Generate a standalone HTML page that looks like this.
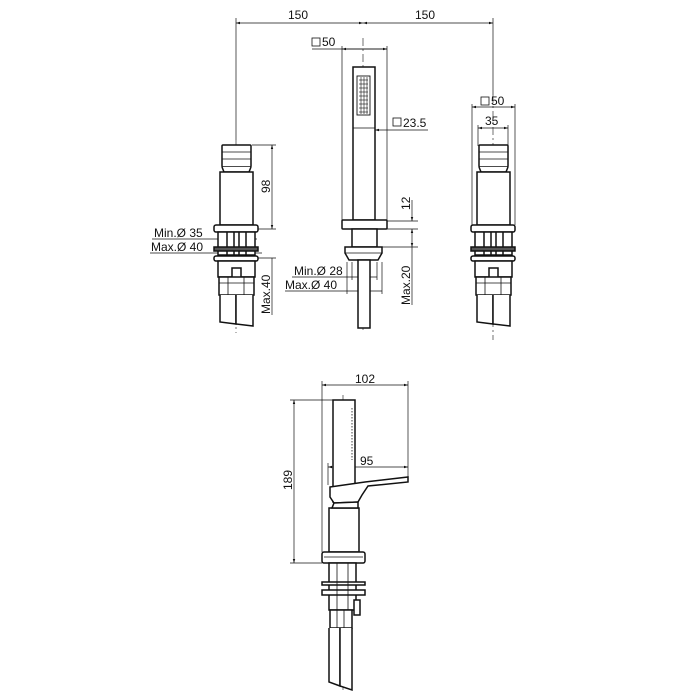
<!DOCTYPE html>
<html><head><meta charset="utf-8"><style>
html,body{margin:0;padding:0;background:#fff}
svg{display:block}
text{font-family:"Liberation Sans",Arial,sans-serif;font-size:12px;fill:#111}
</style></head><body>
<svg width="700" height="700" viewBox="0 0 700 700" xmlns="http://www.w3.org/2000/svg">
<defs>
<marker id="a" viewBox="0 0 10 10" refX="10" refY="5" markerWidth="6" markerHeight="6" orient="auto-start-reverse"><path d="M0,2 L10,5 L0,8 z" fill="#111"/></marker>
<g id="side" fill="#fff" stroke="#111" stroke-width="1.5">
  <rect x="-14" y="145" width="29" height="22" rx="1"/>
  <line x1="-14" y1="152" x2="15" y2="152" stroke-width="0.8"/>
  <line x1="-14" y1="159" x2="15" y2="159" stroke-width="0.8"/>
  <path d="M-14,167 L-12,172 L13,172 L15,167"/>
  <rect x="-16" y="172" width="33" height="53"/>
  <rect x="-22" y="225" width="44" height="7" rx="2"/>
  <rect x="-18" y="232" width="37" height="23"/>
  <line x1="-9" y1="232" x2="-9" y2="255"/><line x1="10" y1="232" x2="10" y2="255"/>
  <line x1="-2" y1="232" x2="-2" y2="270"/><line x1="3" y1="232" x2="3" y2="270"/>
  <rect x="-22" y="247" width="44" height="4" fill="#555"/>
  <rect x="-22" y="256" width="44" height="5" rx="2"/>
  <rect x="-18" y="261" width="37" height="16"/>
  <rect x="-4" y="268" width="9" height="12"/>
  <rect x="-17" y="277" width="35" height="18"/>
  <line x1="-17" y1="283" x2="18" y2="283" stroke-width="0.8"/>
  <line x1="-8" y1="277" x2="-8" y2="295" stroke-width="0.8"/><line x1="8" y1="277" x2="8" y2="295" stroke-width="0.8"/>
  <path d="M-16,295 L-16,322 L0,324 L0,295"/>
  <path d="M0,295 L0,324 L17,326 L17,295"/>
</g>
</defs>
<g stroke="#111" stroke-width="0.7" fill="none">
  <line x1="236" y1="23" x2="363" y2="23" marker-start="url(#a)" marker-end="url(#a)"/>
  <line x1="363" y1="23" x2="493" y2="23" marker-start="url(#a)" marker-end="url(#a)"/>
  <line x1="236" y1="18" x2="236" y2="140"/>
  <line x1="493" y1="18" x2="493" y2="95"/>
  <line x1="312" y1="49" x2="387" y2="49"/>
  <line x1="342" y1="49" x2="387" y2="49" marker-start="url(#a)" marker-end="url(#a)"/>
  <line x1="342" y1="46" x2="342" y2="220"/><line x1="387" y1="46" x2="387" y2="220"/>
  <line x1="375" y1="130" x2="428" y2="130" marker-start="url(#a)"/>
  <line x1="387" y1="221" x2="418" y2="221"/><line x1="387" y1="229" x2="418" y2="229"/><line x1="377" y1="247" x2="418" y2="247"/>
  <line x1="412" y1="200" x2="412" y2="221" marker-end="url(#a)"/>
  <line x1="412" y1="229" x2="412" y2="247" marker-start="url(#a)" marker-end="url(#a)"/>
  <line x1="412" y1="247" x2="412" y2="305"/>
  <line x1="292" y1="277" x2="377" y2="277"/><line x1="285" y1="291" x2="382" y2="291"/>
  <line x1="352" y1="262" x2="352" y2="280"/><line x1="377" y1="262" x2="377" y2="280"/>
  <line x1="347" y1="262" x2="347" y2="294"/><line x1="382" y1="262" x2="382" y2="294"/>
  <line x1="252" y1="145" x2="276" y2="145"/><line x1="257" y1="229" x2="276" y2="229"/><line x1="257" y1="258" x2="276" y2="258"/>
  <line x1="272" y1="145" x2="272" y2="229" marker-start="url(#a)" marker-end="url(#a)"/>
  <line x1="272" y1="258" x2="272" y2="315"/>
  <line x1="152" y1="239" x2="257" y2="239"/><line x1="150" y1="253" x2="262" y2="253"/>
  <line x1="472" y1="104" x2="472" y2="225"/><line x1="515" y1="104" x2="515" y2="225"/>
  <line x1="478" y1="125" x2="478" y2="146"/><line x1="508" y1="125" x2="508" y2="146"/>
  <line x1="472" y1="107" x2="515" y2="107" marker-start="url(#a)" marker-end="url(#a)"/>
  <line x1="478" y1="128" x2="508" y2="128" marker-start="url(#a)" marker-end="url(#a)"/>
  <line x1="322" y1="385" x2="408" y2="385" marker-start="url(#a)" marker-end="url(#a)"/>
  <line x1="322" y1="381" x2="322" y2="552"/><line x1="408" y1="381" x2="408" y2="477"/>
  <line x1="328" y1="467" x2="408" y2="467" marker-start="url(#a)" marker-end="url(#a)"/>
  <line x1="328" y1="463" x2="328" y2="485"/>
  <line x1="290" y1="400" x2="333" y2="400"/><line x1="290" y1="563" x2="322" y2="563"/>
  <line x1="294" y1="400" x2="294" y2="563" marker-start="url(#a)" marker-end="url(#a)"/>
</g>
<g stroke="#111" stroke-width="0.6" stroke-dasharray="8,3,2,3" fill="none">
  <line x1="236" y1="140" x2="236" y2="333"/>
  <line x1="363" y1="38" x2="363" y2="330"/>
  <line x1="493" y1="95" x2="493" y2="340"/>
  <line x1="343" y1="395" x2="343" y2="690"/>
</g>
<use href="#side" x="236"/>
<use href="#side" x="493"/>
<g fill="#fff" stroke="#111" stroke-width="1.5">
  <rect x="353" y="67" width="22" height="153"/>
  <line x1="353" y1="128" x2="375" y2="128" stroke-width="0.8"/>
  <rect x="357" y="76" width="13" height="39" fill="#fff" stroke-width="0.9"/>
  <rect x="342" y="220" width="45" height="9" rx="1"/>
  <rect x="352" y="229" width="25" height="18"/>
  <path d="M345,247 L382,247 L382,253 L378,260 L349,260 L345,253 Z"/>
  <line x1="345" y1="253" x2="382" y2="253" stroke-width="0.8"/>
  <rect x="358" y="260" width="12" height="68"/>
</g>
<g stroke="#111" stroke-width="0.6">
  <line x1="359" y1="80" x2="368" y2="80"/><line x1="359" y1="84" x2="368" y2="84"/><line x1="359" y1="88" x2="368" y2="88"/><line x1="359" y1="92" x2="368" y2="92"/><line x1="359" y1="96" x2="368" y2="96"/><line x1="359" y1="100" x2="368" y2="100"/><line x1="359" y1="104" x2="368" y2="104"/><line x1="359" y1="108" x2="368" y2="108"/><line x1="359" y1="112" x2="368" y2="112"/>
  <line x1="361" y1="77" x2="361" y2="114"/><line x1="364" y1="77" x2="364" y2="114"/><line x1="367" y1="77" x2="367" y2="114"/>
</g>
<g fill="#fff" stroke="#111" stroke-width="1.5">
  <rect x="333" y="400" width="22" height="102"/>
  <rect x="329" y="508" width="30" height="44"/>
  <path d="M330,487 L365,482 L408,477 L408,482 L368,486 L362,495 L358,502 L334,503 L330,497 Z"/>
  <path d="M334,503 L358,502 L358,508 L332,508 Z"/>
  <rect x="322" y="552" width="43" height="11" rx="2"/>
  <line x1="324" y1="557" x2="363" y2="557" stroke-width="0.8"/>
  <rect x="329" y="563" width="27" height="47"/>
  <rect x="322" y="582" width="43" height="3"/>
  <rect x="322" y="590" width="43" height="5"/>
  <rect x="354" y="600" width="6" height="15"/>
  <rect x="330" y="610" width="22" height="18"/>
  <line x1="337" y1="610" x2="337" y2="628" stroke-width="0.8"/><line x1="344" y1="610" x2="344" y2="628" stroke-width="0.8"/>
  <path d="M329,628 L329,682 L340,686 L340,628"/>
  <path d="M340,628 L340,686 L352,690 L352,628"/>
</g>
<g stroke="#111" stroke-width="0.8">
  <line x1="352" y1="408" x2="352" y2="460" stroke-dasharray="1.5,1.5"/>
  <line x1="337" y1="563" x2="337" y2="610"/><line x1="348" y1="563" x2="348" y2="610"/>
</g>
<text x="288" y="19">150</text>
<text x="415" y="19">150</text>
<rect x="312" y="38" width="8" height="8" fill="none" stroke="#111" stroke-width="0.8"/>
<text x="322" y="46">50</text>
<rect x="393" y="118" width="8" height="8" fill="none" stroke="#111" stroke-width="0.8"/>
<text x="403" y="127">23.5</text>
<rect x="481" y="97" width="8" height="8" fill="none" stroke="#111" stroke-width="0.8"/>
<text x="491" y="105">50</text>
<text x="485" y="125">35</text>
<text transform="translate(270,193) rotate(-90)">98</text>
<text transform="translate(270,314) rotate(-90)">Max.40</text>
<text transform="translate(410,210) rotate(-90)">12</text>
<text transform="translate(410,305) rotate(-90)">Max.20</text>
<text x="154" y="237">Min.Ø 35</text>
<text x="151" y="251">Max.Ø 40</text>
<text x="294" y="275">Min.Ø 28</text>
<text x="285" y="289">Max.Ø 40</text>
<text x="355" y="383">102</text>
<text x="360" y="465">95</text>
<text transform="translate(292,490) rotate(-90)">189</text>
</svg>
</body></html>
